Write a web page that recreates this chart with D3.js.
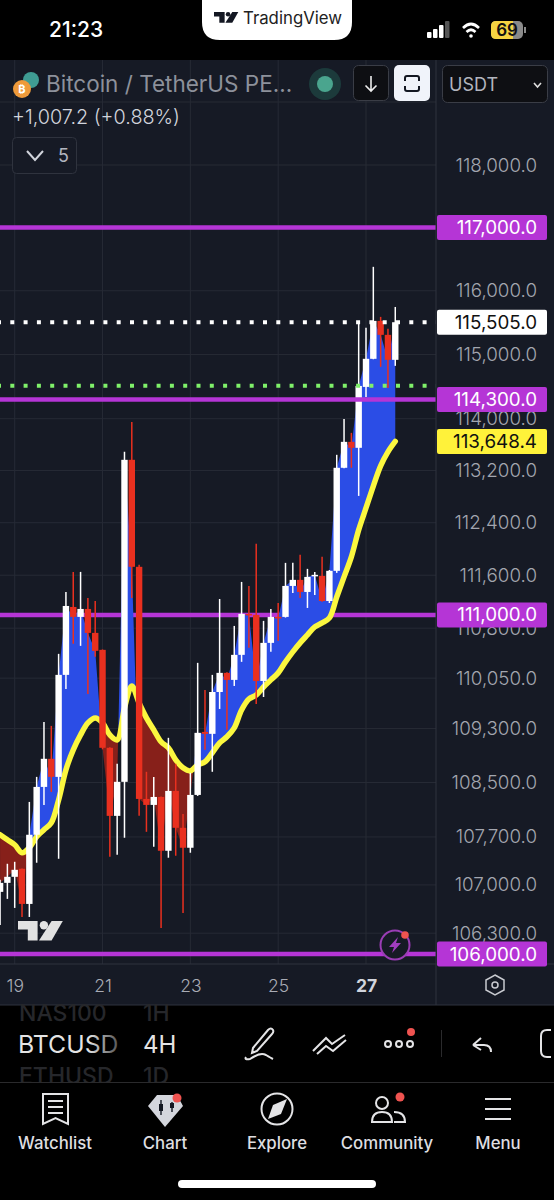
<!DOCTYPE html>
<html>
<head>
<meta charset="utf-8">
<style>
html,body{margin:0;padding:0;background:#000;}
svg{display:block;}
text{font-family:Inter,"Noto Sans",sans-serif;}
</style>
<script src="https://cdn.jsdelivr.net/npm/d3@7"></script>
</head>
<body>
<svg id="chart" width="554" height="1200"></svg>
<script>
// 4H bars, Jul 18 16:00 -> Jul 27 16:00
const opens = [106899,107030,107118,107235,106724,107732,108435,108850,108583,110099,111120,110970,111090,110729,110474,109013,108009,108510,113365,111728,108258,108170,108287,107498,108376,107834,107542,108317,109249,109220,109843,110129,110024,110399,111015,111000,110008,110579,110970,110970,111438,111530,111347,111590,111590,111210,111667,113242,113642,113550,114494,114932,115526,115307,114916];
const highs = [107074,107308,107337,107240,108214,108583,109397,109338,110414,111347,111651,111651,111255,111210,110480,109020,108776,113488,113951,111758,108658,108583,108295,109161,108776,108038,108643,110279,109873,110099,111240,110140,110834,111499,111438,112078,110910,111090,111180,111788,111788,111910,111697,111651,111880,111680,113442,113997,113781,115495,115417,116378,115589,115401,115745];
const lows = [106420,106797,106666,106535,106535,107323,108170,108361,107381,109888,110564,110534,109813,110369,108990,107410,107439,107688,111255,108009,107775,107556,106376,107396,107425,106594,107469,108302,108983,108658,109590,109279,109933,110294,110504,109664,109768,110444,110609,110960,111332,111255,111105,111301,111200,111180,111636,113235,113242,112810,114337,114925,114807,114478,114822];
const closes = [107030,107118,107220,106724,107732,108435,108850,108583,110099,111135,110970,111090,110729,110459,109013,108009,108510,113365,111728,108258,108170,108287,107498,108376,107834,107542,108317,109235,109220,109843,110129,110024,110399,111015,111000,110008,110579,110970,110955,111438,111530,111347,111575,111606,111210,111667,113242,113642,113550,114509,114932,115526,115307,114916,115505];
const ema = [107732,107659,107586,107469,107542,107703,107805,107907,108243,108687,108983,109205,109383,109457,109383,109205,109131,109605,109933,109679,109457,109279,109102,109013,108835,108717,108672,108761,108806,108939,109087,109176,109309,109575,109738,109798,109918,110024,110129,110294,110444,110579,110699,110819,110880,110955,111270,111575,111880,112291,112625,112961,113272,113488,113648.4];

const priceTicks = [118000,116000,115000,114000,113200,112400,111600,110800,110050,109300,108500,107700,107000,106300];
const dayTicks = [19,21,23,25,27];
const tagPrices = [117000,115505,114300,113648.4,111000,106000];
const tagLabels = ["117,000.0","115,505.0","114,300.0","113,648.4","111,000.0","106,000.0"];
const tagFills = ["#b535d6","#ffffff","#b535d6","#fff23a","#b535d6","#b535d6"];
const tagInks = ["#fff","#111","#fff","#111","#fff","#fff"];
const levelsUnder = [111000];
const levelsOver = [117000,114300,106000];
const lastPrice = 115505;
const greenLevel = 114510;

const bg = "#161a25", grid = "#262a35", border = "#2f333e";
const paneW = 436, paneTop = 60, paneBottom = 964, panelBottom = 1005;

const svg = d3.select("#chart");
const barTimes = d3.utcHour.every(4).range(new Date(Date.UTC(2025,6,18,16)), new Date(Date.UTC(2025,6,27,20)));
const dayDates = dayTicks.map(d => new Date(Date.UTC(2025,6,d)));

const x = d3.scaleUtc().domain([dayDates[0], dayDates[4]]).range([14.7, 366]);
const y = d3.scaleLog().domain([106000,118000]).range([954,165]);

const defs = svg.append("defs");
defs.append("clipPath").attr("id","pane").append("rect").attr("x",0).attr("y",paneTop).attr("width",paneW).attr("height",paneBottom-paneTop);
const fade = defs.append("linearGradient").attr("id","fade").attr("gradientUnits","userSpaceOnUse")
	.attr("x1",18).attr("x2",118).attr("y1",0).attr("y2",0);
fade.append("stop").attr("offset",.7).attr("stop-color","#e4e4e4");
fade.append("stop").attr("offset",1).attr("stop-color","#555");

svg.append("rect").attr("width",554).attr("height",1200).attr("fill","#000");
svg.append("rect").attr("y",paneTop).attr("width",554).attr("height",panelBottom-paneTop).attr("fill",bg);

// grid lines
const gridG = svg.append("g");
gridG.selectAll("line.h").data(priceTicks.concat([117000])).enter().append("line")
	.attr("x1",0).attr("x2",paneW).attr("y1",d=>y(d)).attr("y2",d=>y(d)).attr("stroke",grid);
gridG.append("line").attr("x1",0).attr("x2",paneW).attr("y1",102).attr("y2",102).attr("stroke",grid);
gridG.selectAll("line.v").data(dayDates).enter().append("line")
	.attr("x1",d=>x(d)).attr("x2",d=>x(d)).attr("y1",paneTop).attr("y2",paneBottom).attr("stroke",grid);

const plot = svg.append("g").attr("clip-path","url(#pane)");

function levelLines(levels){
	plot.selectAll(null).data(levels).enter().append("line")
		.attr("x1",0).attr("x2",paneW).attr("y1",d=>y(d)).attr("y2",d=>y(d))
		.attr("stroke","#b535d6").attr("stroke-width",4.5);
}
levelLines(levelsUnder);

// close vs ema fill, split where the two cross
let runs = [], run = null;
barTimes.forEach((t,i) => {
	const up = closes[i] >= ema[i];
	if (run && run.up !== up) {
		const d0 = closes[i-1]-ema[i-1], d1 = closes[i]-ema[i], f = d0/(d0-d1);
		const t0 = +barTimes[i-1], cross = {t:new Date(t0+(+t-t0)*f), c:ema[i-1]+(ema[i]-ema[i-1])*f, e:ema[i-1]+(ema[i]-ema[i-1])*f};
		run.pts.push(cross);
		runs.push(run);
		run = {up, pts:[cross]};
	}
	if (!run) run = {up, pts:[]};
	run.pts.push({t, c:closes[i], e:ema[i]});
});
runs.push(run);
const fillArea = d3.area().x(d=>x(d.t)).y0(d=>y(d.e)).y1(d=>y(d.c));
plot.selectAll("path.fill").data(runs).enter().append("path")
	.attr("d",d=>fillArea(d.pts)).attr("fill",d=>d.up?"#2b4de6":"#87201a");

// ema
const emaLine = d3.line().x((d,i)=>x(barTimes[i])).y(d=>y(d)).curve(d3.curveCatmullRom);
plot.append("path").attr("d",emaLine(ema)).attr("fill","none").attr("stroke","#fbf73f").attr("stroke-width",5.5).attr("stroke-linecap","round");

// candles
const colour = i => closes[i] >= opens[i] ? "#ffffff" : "#e9301f";
const bars = plot.selectAll("g.bar").data(barTimes).enter().append("g");
bars.append("line").attr("x1",d=>x(d)).attr("x2",d=>x(d))
	.attr("y1",(d,i)=>y(highs[i])).attr("y2",(d,i)=>y(lows[i]))
	.attr("stroke",(d,i)=>colour(i)).attr("stroke-width",1.5);
bars.append("rect").attr("x",d=>x(d)-3.2).attr("width",6.4)
	.attr("y",(d,i)=>y(Math.max(opens[i],closes[i])))
	.attr("height",(d,i)=>Math.max(1.5,y(Math.min(opens[i],closes[i]))-y(Math.max(opens[i],closes[i]))))
	.attr("fill",(d,i)=>colour(i));

levelLines(levelsOver);
plot.append("line").attr("x1",-3).attr("x2",paneW).attr("y1",y(lastPrice)).attr("y2",y(lastPrice))
	.attr("stroke","#ffffff").attr("stroke-width",4).attr("stroke-dasharray","4 9.3");
plot.append("line").attr("x1",-3).attr("x2",paneW).attr("y1",y(greenLevel)).attr("y2",y(greenLevel))
	.attr("stroke","#7ff06a").attr("stroke-width",4).attr("stroke-dasharray","4 9.3");

// price axis
const yAxis = d3.axisRight(y).tickValues(priceTicks).tickSize(0).tickPadding(0)
	.tickFormat(d => d3.format(",.1f")(d));
const yG = svg.append("g").attr("transform",`translate(${paneW},0)`).call(yAxis);
yG.select(".domain").remove();
yG.selectAll("text").attr("x",101).attr("text-anchor","end").attr("font-size",18.8).attr("fill","#a3a6af").style("font-family","Inter").style("font-weight",300);

// time axis
const xAxis = d3.axisBottom(x).tickValues(dayDates).tickSize(0).tickPadding(0).tickFormat(d=>d.getUTCDate());
const xG = svg.append("g").attr("transform",`translate(0,${paneBottom})`).call(xAxis);
xG.select(".domain").remove();
xG.selectAll("text").attr("y",15.5).attr("font-size",17.5).attr("fill","#a9acb5").style("font-family","Inter").style("font-weight",300);
xG.selectAll(".tick").filter(d=>d.getUTCDate()===27).select("text").style("font-weight",700).attr("fill","#d1d4dc");

svg.append("line").attr("x1",paneW).attr("x2",paneW).attr("y1",paneTop).attr("y2",panelBottom).attr("stroke",border);
svg.append("line").attr("x1",0).attr("x2",554).attr("y1",paneBottom).attr("y2",paneBottom).attr("stroke",border);
svg.append("line").attr("x1",0).attr("x2",554).attr("y1",panelBottom).attr("y2",panelBottom).attr("stroke",border);

// price tags
const tags = svg.selectAll("g.tag").data(tagPrices).enter().append("g")
	.attr("transform",d=>`translate(437,${y(d)})`);
tags.append("rect").attr("y",-12.5).attr("width",110).attr("height",25).attr("rx",2).attr("fill",(d,i)=>tagFills[i]);
tags.append("text").attr("x",100).attr("y",6.5).attr("text-anchor","end").attr("font-size",18.8)
	.attr("fill",(d,i)=>tagInks[i]).text((d,i)=>tagLabels[i]);

function label(s,tx,ty,size,fill,anchor,weight){
	return svg.append("text").attr("x",tx).attr("y",ty).attr("font-size",size).attr("fill",fill)
		.attr("text-anchor",anchor||"start").attr("font-weight",weight||400).text(s);
}
function tvLogo(tx,ty,k,fill){
	const g = svg.append("g").attr("transform",`translate(${tx},${ty}) scale(${k})`).attr("fill",fill);
	g.append("path").attr("d","M0 0H14V14H7V6H0Z");
	g.append("circle").attr("cx",18.5).attr("cy",3).attr("r",3);
	g.append("path").attr("d","M24 0H32L24 14H15Z");
}

// status bar
label("21:23",49,37,21,"#fff","start",500);
svg.append("path").attr("d","M202 0H352V22Q352 40 334 40H220Q202 40 202 22Z").attr("fill","#fff");
tvLogo(214,12,.76,"#131722");
label("TradingView",243,24,16.8,"#222");
[[427,6],[433,9],[439,13],[445,17]].forEach((b,i)=>{
	svg.append("rect").attr("x",b[0]).attr("y",38-b[1]).attr("width",4.5).attr("height",b[1]).attr("rx",1).attr("fill",i==3?"#555":"#fff");
});
const wifi = svg.append("g").attr("fill","none").attr("stroke","#fff").attr("stroke-width",2.6);
wifi.append("path").attr("d","M463 28Q471 20 479 28");
wifi.append("path").attr("d","M466.5 32Q471 27.5 475.5 32");
svg.append("circle").attr("cx",471).attr("cy",36).attr("r",1.8).attr("fill","#fff");
svg.append("rect").attr("x",491).attr("y",21).attr("width",32).attr("height",18).attr("rx",5).attr("fill","#8a8a8a");
svg.append("path").attr("d","M496 21H513V39H496Q491 39 491 34V26Q491 21 496 21Z").attr("fill","#f6d442");
svg.append("rect").attr("x",524).attr("y",27).attr("width",2).attr("height",6).attr("fill","#8a8a8a");
label("69",507,36,17,"#111","middle",600);

// header
svg.append("circle").attr("cx",31).attr("cy",80).attr("r",8).attr("fill","#3f9c93");
svg.append("circle").attr("cx",22).attr("cy",89).attr("r",9).attr("fill","#ee9a3a");
label("₿",22,93,11,"#fff","middle",700);
label("Bitcoin / TetherUS PE...",46,92,22.5,"#8d919b");
svg.append("circle").attr("cx",325).attr("cy",84).attr("r",16).attr("fill","#1c3a3b");
svg.append("circle").attr("cx",325).attr("cy",84).attr("r",8).attr("fill","#4aa58e");
svg.append("rect").attr("x",353.5).attr("y",65.5).attr("width",35).attr("height",35).attr("rx",5).attr("fill","#0e0f13").attr("stroke","#3a3d46");
svg.append("path").attr("d","M371 76V91M365.5 85.5L371 91L376.500 85.5").attr("fill","none").attr("stroke","#eee").attr("stroke-width",1.6);
svg.append("rect").attr("x",394).attr("y",65).attr("width",36).attr("height",36).attr("rx",5).attr("fill","#f0f3fa");
svg.append("path").attr("d","M405 81V78Q405 76 407 76H417Q419 76 419 78V81M405 86V89Q405 91 407 91H417Q419 91 419 89V86").attr("fill","none").attr("stroke","#131722").attr("stroke-width",2);
svg.append("rect").attr("x",442.500).attr("y",65.5).attr("width",105).attr("height",37).attr("rx",5).attr("fill","#0e0f13").attr("stroke","#3a3d46");
label("USDT",449,91,18,"#b2b5be");
svg.append("path").attr("d","M534 83L537.500 87L541 83").attr("fill","none").attr("stroke","#ddd").attr("stroke-width",1.6);
label("+1,007.2 (+0.88%)",12,124,19.8,"#d1d4dc").attr("font-weight",300);
svg.append("rect").attr("x",12.5).attr("y",137.500).attr("width",64).attr("height",36).attr("rx",4).attr("fill",bg).attr("stroke","#2f333e");
svg.append("path").attr("d","M27 151L35 160L43 151").attr("fill","none").attr("stroke","#d1d4dc").attr("stroke-width",2);
label("5",58,162,18,"#b2b5be");

// watermark, alert badge
tvLogo(18,921,1.4,"#e2e2e2");
svg.append("circle").attr("cx",395).attr("cy",945).attr("r",14.5).attr("fill",bg).attr("stroke","#9a3db5").attr("stroke-width",2);
svg.append("path").attr("d","M398 937L389 947H394L392 953L401 943H396Z").attr("fill","#a23dc0");
svg.append("circle").attr("cx",405).attr("cy",935).attr("r",3.8).attr("fill","#ef5350");
svg.append("path").attr("d","M495 975L504 980V990L495 995L486 990V980Z").attr("fill","none").attr("stroke","#c8cad0").attr("stroke-width",1.5);
svg.append("circle").attr("cx",495).attr("cy",985).attr("r",3).attr("fill","none").attr("stroke","#c8cad0").attr("stroke-width",1.5);

// toolbar
label("NAS100",19,1021,23,"#26272b","start",500);
label("1H",143,1021,23,"#26272b","start",500);
label("BTCUSD",18,1053,24.8,"url(#fade)");
label("4H",143,1053,24,"#e4e4e4");
label("ETHUSD",19,1084,23,"#26272b","start",500);
label("1D",143,1084,23,"#26272b","start",500);
svg.append("rect").attr("y",1082).attr("width",554).attr("height",118).attr("fill","#000");
svg.append("line").attr("x1",0).attr("x2",554).attr("y1",1082.500).attr("y2",1082.500).attr("stroke","#2a2a2c");
const ink = svg.append("g").attr("fill","none").attr("stroke","#e4e4e6").attr("stroke-width",2);
ink.append("path").attr("d","M253 1048L268 1030Q271 1027 273 1030Q274 1032 272 1034L257 1051L252 1053ZM246 1057Q244 1060 250 1059Q260 1052 266 1055Q271 1058 273 1059");
ink.append("path").attr("d","M313 1051L326 1038L332 1044L345 1035M317 1054L326 1046L333 1051L346 1040");
[388,399,410].forEach(cx=>ink.append("circle").attr("cx",cx).attr("cy",1044).attr("r",3));
ink.append("path").attr("d","M473 1045L481 1038M473 1045L481 1050M473 1045H484Q491 1045 491 1052");
ink.append("path").attr("d","M551 1030H547Q541 1030 541 1036V1051Q541 1057 547 1057H551");
svg.append("circle").attr("cx",411).attr("cy",1032).attr("r",4).attr("fill","#ef5350");
svg.append("line").attr("x1",441.500).attr("x2",441.500).attr("y1",1030).attr("y2",1057).attr("stroke","#2a2a2c");

// nav bar
const navNames = ["Watchlist","Chart","Explore","Community","Menu"];
const navX = [55,165,277,387,498];
navNames.forEach((n,i)=>label(n,navX[i],1149,16.8,"#dedee0","middle",500));
ink.append("path").attr("d","M43 1094H68V1124L55.500 1118L43 1124Z M48 1101H63M48 1107H63M48 1113H63");
svg.append("path").attr("d","M157 1095H177L183 1106L165 1127L148 1106Z").attr("fill","#d4d6dd");
svg.append("path").attr("d","M161 1100V1115M172 1102V1112").attr("stroke","#131722").attr("stroke-width",1.4);
svg.append("rect").attr("x",159).attr("y",1104).attr("width",4).attr("height",7).attr("fill","#131722");
svg.append("rect").attr("x",170).attr("y",1103).attr("width",4).attr("height",5).attr("fill","#131722");
svg.append("circle").attr("cx",177).attr("cy",1098).attr("r",4.5).attr("fill","#ef5350");
ink.append("circle").attr("cx",277).attr("cy",1109).attr("r",15.5);
svg.append("path").attr("d","M287 1099L281 1114L268 1119L273 1105Z").attr("fill","#e4e4e6");
ink.append("circle").attr("cx",382).attr("cy",1103).attr("r",6);
ink.append("path").attr("d","M372 1122Q372 1112 382 1112Q392 1112 392 1122Z M394 1112Q405 1112 405 1122H394");
svg.append("circle").attr("cx",400).attr("cy",1097).attr("r",4.5).attr("fill","#ef5350");
ink.append("path").attr("d","M485 1099H511M485 1109H511M485 1119H511");
svg.append("rect").attr("x",178).attr("y",1180).attr("width",198).attr("height",8).attr("rx",4).attr("fill","#fff");
</script>
</body>
</html>
